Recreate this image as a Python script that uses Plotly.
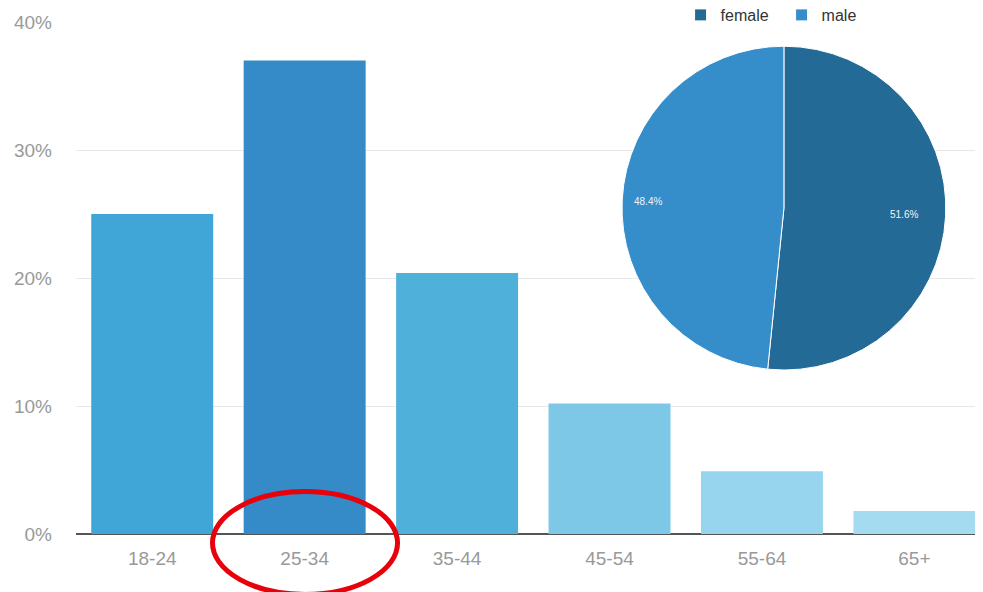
import math
import plotly.graph_objects as go

age_groups = ["18-24", "25-34", "35-44", "45-54", "55-64", "65+"]
age_share = [25.0, 37.0, 20.4, 10.2, 4.9, 1.8]
bar_colors = ["#3FA6D7", "#348BC7", "#4FB1DA", "#7EC8E7", "#97D4EE", "#A5DBF1"]

gender_labels = ["female", "male"]
gender_share = [51.6, 48.4]
gender_colors = ["#246A96", "#358DC9"]

y_ticks = [0, 10, 20, 30, 40]
y_tick_text = ["0%", "10%", "20%", "30%", "40%"]

# layout geometry (figure px)
W, H = 975, 584
ML, MR, MT, MB = 68, 0, 14, 58
PW, PH = W - ML - MR, H - MT - MB
pie_dom_x = [0.602, 0.959]
pie_dom_y = [0.32, 0.953]

fig = go.Figure()
fig.add_trace(go.Bar(
    x=list(range(len(age_groups))), y=age_share,
    marker=dict(color=bar_colors, line=dict(width=0)),
    showlegend=False, hoverinfo="skip",
))
fig.add_trace(go.Pie(
    labels=gender_labels, values=gender_share,
    marker=dict(colors=gender_colors, line=dict(color="white", width=1)),
    sort=False, direction="clockwise", rotation=0,
    textinfo="none",
    domain=dict(x=pie_dom_x, y=pie_dom_y),
    showlegend=True,
))

# slice percentage labels placed near the rim (like the original)
cx = sum(pie_dom_x) / 2
cy = sum(pie_dom_y) / 2
r_px = min((pie_dom_x[1] - pie_dom_x[0]) * PW, (pie_dom_y[1] - pie_dom_y[0]) * PH) / 2
total = sum(gender_share)
start = 0.0
for lab, val in zip(gender_labels, gender_share):
    mid = (start + val / 2) / total * 2 * math.pi
    start += val
    rr = 0.84 * r_px
    fig.add_annotation(
        xref="paper", yref="paper",
        x=cx + rr * math.sin(mid) / PW, y=cy + rr * math.cos(mid) / PH,
        text=f"{val:.1f}%", showarrow=False,
        font=dict(color="#EEF3F8", size=10, family="Liberation Sans"),
    )

# highlight ellipse around the 25-34 category label
fig.add_shape(type="circle", xref="paper", yref="paper",
              x0=0.1505, x1=0.3545, y0=-0.118, y1=0.083,
              line=dict(color="#E8000B", width=5), layer="above")

fig.update_layout(
    width=W, height=H,
    margin=dict(l=ML, r=MR, t=MT, b=MB, autoexpand=False),
    paper_bgcolor="white", plot_bgcolor="white",
    font=dict(family="Liberation Sans", color="#999999", size=16),
    bargap=0.2,
    xaxis=dict(
        range=[-0.5, 5.45], tickmode="array",
        tickvals=list(range(len(age_groups))), ticktext=age_groups,
        showgrid=False, zeroline=False, showline=False,
        ticks="", ticklabelstandoff=11,
        tickfont=dict(size=19, color="#999999"),
    ),
    yaxis=dict(
        range=[0, 40], tickmode="array", tickvals=y_ticks, ticktext=y_tick_text,
        showgrid=True, gridcolor="#E8E8E8", gridwidth=1,
        zeroline=True, zerolinecolor="#555555", zerolinewidth=2,
        showline=False, ticks="", ticklabelstandoff=23,
        tickfont=dict(size=19, color="#999999"),
    ),
    legend=dict(
        orientation="h", x=0.6666, y=1.0137, xanchor="left", yanchor="middle",
        font=dict(size=16, color="#333333", family="Liberation Sans"),
        itemwidth=30, entrywidth=56, bgcolor="rgba(0,0,0,0)",
    ),
)

fig.write_html("out.html")
